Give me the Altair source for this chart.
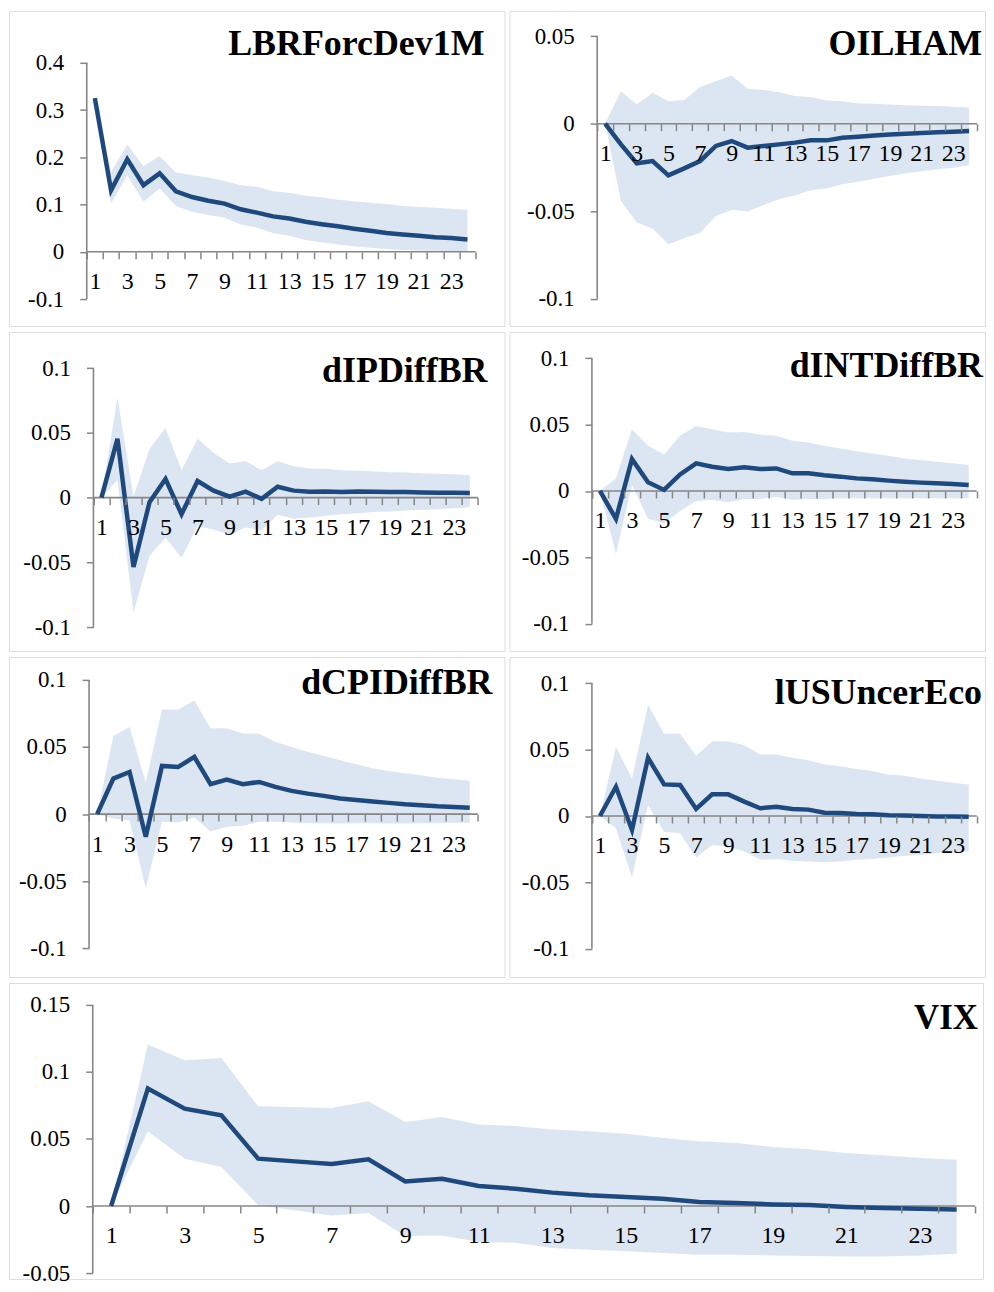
import altair as alt
import pandas as pd

# ---------------- data ----------------
periods = list(range(1, 25))
titles = ["LBRForcDev1M", "OILHAM", "dIPDiffBR", "dINTDiffBR", "dCPIDiffBR", "lUSUncerEco", "VIX"]

lbr_irf = [0.325, 0.130, 0.196, 0.141, 0.166, 0.128, 0.116, 0.108, 0.102, 0.090, 0.083, 0.075,
           0.0705, 0.0635, 0.0585, 0.054, 0.049, 0.0445, 0.040, 0.0367, 0.034, 0.031, 0.029, 0.026]
lbr_hi = [0.325, 0.169, 0.227, 0.181, 0.203, 0.168, 0.162, 0.157, 0.150, 0.141, 0.1376, 0.128,
          0.125, 0.1185, 0.1157, 0.110, 0.107, 0.104, 0.101, 0.097, 0.095, 0.093, 0.091, 0.089]
lbr_lo = [0.325, 0.102, 0.162, 0.106, 0.134, 0.097, 0.085, 0.078, 0.072, 0.058, 0.051, 0.040,
          0.034, 0.025, 0.020, 0.0155, 0.012, 0.0085, 0.006, 0.004, 0.003, 0.002, 0.0015, 0.001]

oil_irf = [0.0, -0.0118, -0.0226, -0.0213, -0.0295, -0.0255, -0.0213, -0.0127, -0.0099, -0.0137, -0.0127, -0.0118,
           -0.0108, -0.0095, -0.0095, -0.008, -0.0074, -0.0067, -0.0061, -0.0057, -0.0053, -0.0049, -0.0046, -0.0042]
oil_hi = [0.0, 0.0186, 0.011, 0.0177, 0.0129, 0.0135, 0.0209, 0.0243, 0.0276, 0.020, 0.0192, 0.018,
          0.0158, 0.0152, 0.0133, 0.0129, 0.0116, 0.0114, 0.011, 0.0106, 0.0103, 0.0101, 0.0097, 0.0093]
oil_lo = [0.0, -0.0441, -0.0565, -0.0599, -0.0688, -0.0654, -0.0625, -0.0527, -0.0492, -0.0502, -0.0464, -0.0432,
          -0.0409, -0.038, -0.0369, -0.0346, -0.0331, -0.0314, -0.0298, -0.0283, -0.0272, -0.026, -0.0251, -0.0238]

ip_irf = [0.0, 0.0454, -0.0536, -0.0036, 0.0143, -0.0128, 0.0128, 0.0054, 0.0008, 0.0046, -0.001, 0.0084,
          0.0054, 0.0046, 0.0048, 0.0043, 0.0048, 0.0046, 0.0043, 0.0043, 0.004, 0.0038, 0.0038, 0.0036]
ip_hi = [0.0, 0.0773, 0.0008, 0.0378, 0.0538, 0.0212, 0.0454, 0.0347, 0.0263, 0.028, 0.0212, 0.028,
         0.0242, 0.0224, 0.0222, 0.0212, 0.0207, 0.0202, 0.0196, 0.0194, 0.0189, 0.0184, 0.0181, 0.0173]
ip_lo = [0.0, 0.0135, -0.0885, -0.0452, -0.0311, -0.0464, -0.0222, -0.0247, -0.0286, -0.023, -0.0253, -0.0133,
         -0.0163, -0.0153, -0.014, -0.0128, -0.012, -0.0112, -0.0107, -0.0099, -0.0094, -0.0089, -0.0082, -0.0074]

int_irf = [0.0, -0.021, 0.024, 0.0065, 0.0008, 0.0125, 0.0208, 0.0183, 0.0165, 0.0178, 0.0165, 0.017,
           0.0133, 0.0133, 0.0118, 0.0108, 0.0095, 0.0088, 0.0078, 0.007, 0.0063, 0.0058, 0.0053, 0.0045]
int_hi = [0.0, 0.0095, 0.0465, 0.034, 0.0275, 0.0415, 0.049, 0.0465, 0.044, 0.0445, 0.0425, 0.0415,
          0.0378, 0.0365, 0.034, 0.032, 0.030, 0.0283, 0.0265, 0.0245, 0.0233, 0.022, 0.0208, 0.0195]
int_lo = [0.0, -0.0475, 0.0045, -0.021, -0.0243, -0.015, -0.0075, -0.0068, -0.0085, -0.006, -0.006, -0.0043,
          -0.0068, -0.006, -0.006, -0.0055, -0.0055, -0.0055, -0.0055, -0.0055, -0.0055, -0.0055, -0.0055, -0.0055]

cpi_irf = [0.0, 0.0265, 0.0314, -0.0168, 0.0359, 0.0351, 0.0426, 0.0223, 0.0257, 0.0223, 0.024, 0.0203,
           0.0173, 0.0153, 0.0136, 0.0116, 0.0106, 0.0094, 0.0084, 0.0074, 0.0067, 0.0059, 0.0054, 0.0047]
cpi_hi = [0.0, 0.0582, 0.0649, 0.0235, 0.078, 0.078, 0.0847, 0.0639, 0.0639, 0.0601, 0.0599, 0.054,
          0.050, 0.0465, 0.0433, 0.0401, 0.0371, 0.0342, 0.0322, 0.0304, 0.029, 0.0272, 0.026, 0.0248]
cpi_lo = [0.0, -0.0032, -0.0045, -0.0552, -0.0057, -0.0062, -0.0025, -0.0129, -0.0094, -0.0087, -0.0057, -0.0057,
          -0.0062, -0.0067, -0.0067, -0.0069, -0.0067, -0.0067, -0.0069, -0.0069, -0.0067, -0.0067, -0.0064, -0.0064]

unc_irf = [0.0, 0.022, -0.0105, 0.0438, 0.0238, 0.0233, 0.0053, 0.0163, 0.0163, 0.0108, 0.0058, 0.007,
           0.0053, 0.0048, 0.0025, 0.0023, 0.0015, 0.0013, 0.0005, 0.0003, 0.0, -0.0003, -0.0003, -0.0005]
unc_hi = [0.0, 0.052, 0.0283, 0.0838, 0.062, 0.062, 0.0453, 0.0563, 0.0563, 0.0533, 0.0463, 0.0463,
          0.0438, 0.042, 0.0388, 0.0375, 0.0353, 0.0338, 0.0313, 0.0303, 0.0283, 0.0265, 0.025, 0.0238]
unc_lo = [0.0, -0.0093, -0.0463, 0.0083, -0.0118, -0.013, -0.0313, -0.0218, -0.023, -0.0268, -0.033, -0.0323,
          -0.0338, -0.0343, -0.0348, -0.0343, -0.033, -0.0323, -0.0313, -0.030, -0.0293, -0.028, -0.0273, -0.0263]

vix_irf = [0.0, 0.0876, 0.0726, 0.0677, 0.0353, 0.0333, 0.0313, 0.0348, 0.0184, 0.0204, 0.0149, 0.0129,
           0.010, 0.008, 0.0067, 0.0055, 0.003, 0.0022, 0.0012, 0.0007, -0.0007, -0.0015, -0.002, -0.0025]
vix_hi = [0.0, 0.1204, 0.1087, 0.1104, 0.0744, 0.0739, 0.0731, 0.0781, 0.0627, 0.0664, 0.0609, 0.0597,
          0.057, 0.0557, 0.054, 0.0507, 0.0483, 0.047, 0.044, 0.0423, 0.0396, 0.0378, 0.0358, 0.0346]
vix_lo = [0.0, 0.0557, 0.0353, 0.0291, 0.0005, -0.0032, -0.007, -0.0052, -0.0224, -0.0219, -0.0269, -0.0274,
          -0.0313, -0.0326, -0.0338, -0.0351, -0.0363, -0.0363, -0.0368, -0.0373, -0.0376, -0.0376, -0.0368, -0.0356]

ticks_lbr = [-0.1, 0, 0.1, 0.2, 0.3, 0.4]
ticks_oil = [-0.1, -0.05, 0, 0.05]
ticks_01 = [-0.1, -0.05, 0, 0.05, 0.1]
ticks_vix = [-0.05, 0, 0.05, 0.1, 0.15]

# ---------------- style / layout ----------------
FONT = "Liberation Serif"
LINE = "#1F497D"
BAND = "#DCE6F2"
AXIS = "#868686"
FRAME = "#8C8C8C"

# page-pixel layout of each panel: frame (L,R,T,B), axis x-span, two y reference ticks, title anchor
layout = [
    dict(L=8, R=505, T=8, B=324, ax0=86, ax1=476, pA=60, vA=0.4, pB=297, vB=-0.1, tr=485, tb=52, ts=36),
    dict(L=508, R=985, T=8, B=324, ax0=596, ax1=977, pA=33.3, vA=0.05, pB=296.7, vB=-0.1, tr=982, tb=52, ts=36),
    dict(L=8, R=505, T=328, B=648, ax0=92.7, ax1=478.3, pA=364.3, vA=0.1, pB=624, vB=-0.1, tr=488, tb=378, ts=36),
    dict(L=508, R=985, T=328, B=648, ax0=590.7, ax1=976.7, pA=354.3, vA=0.1, pB=620.7, vB=-0.1, tr=983, tb=373, ts=36),
    dict(L=8, R=505, T=652, B=973, ax0=88.3, ax1=478.3, pA=675, vA=0.1, pB=944.3, vB=-0.1, tr=493, tb=689, ts=36),
    dict(L=508, R=985, T=652, B=973, ax0=590.7, ax1=976.7, pA=678.3, vA=0.1, pB=944.7, vB=-0.1, tr=982, tb=699, ts=36),
    dict(L=8, R=985, T=977, B=1274, ax0=92, ax1=977, pA=999, vA=0.15, pB=1268, vB=-0.05, tr=980, tb=1023, ts=35),
]


def panel(title, irf, lo, hi, ticks, g):
    W = g["R"] - g["L"]
    H = g["B"] - g["T"]
    ppu_y = (g["pB"] - g["pA"]) / (g["vA"] - g["vB"])
    vmax = g["vA"] + (g["pA"] - g["T"]) / ppu_y
    vmin = g["vB"] - (g["B"] - g["pB"]) / ppu_y
    ppu_x = (g["ax1"] - g["ax0"]) / 24.0
    umin = 0.5 - (g["ax0"] - g["L"]) / ppu_x
    umax = 24.5 + (g["R"] - g["ax1"]) / ppu_x
    y0 = H * vmax / (vmax - vmin)

    xs = alt.Scale(domain=[umin, umax], nice=False, zero=False)
    ys = alt.Scale(domain=[vmin, vmax], nice=False, zero=False)

    # ticks sit between categories (k + 0.5); each label is drawn half a band to the left of its tick
    xaxis = alt.Axis(
        orient="bottom", offset=-(H - y0), values=[k + 0.5 for k in range(25)], tickCount=60,
        domain=False, grid=False, ticks=True, tickSize=7, tickColor=AXIS, tickWidth=1.5,
        labelExpr="((datum.value - 0.5) % 2 == 1) ? '' + (datum.value - 0.5) : ''",
        labelOffset=-ppu_x / 2, labelFont=FONT, labelFontSize=24, labelColor="black",
        labelPadding=11, labelOverlap=False, labelFlush=False, labelBound=False,
        title=None, zindex=1, minExtent=0, maxExtent=0,
    )
    yaxis = alt.Axis(
        orient="left", offset=-(g["ax0"] - g["L"]), values=ticks, tickCount=60,
        domain=False, grid=False, tickSize=7, tickColor=AXIS, tickWidth=1.5,
        labelExpr="'' + datum.value", labelFont=FONT, labelFontSize=23, labelColor="black",
        labelPadding=16, labelOverlap=False, labelFlush=False, labelBound=False,
        title=None, zindex=1, minExtent=0, maxExtent=0,
    )

    df = pd.DataFrame({"period": periods, "irf": irf, "lo": lo, "hi": hi})
    one = pd.DataFrame({"t": [title]})

    band = alt.Chart(df).mark_area(color=BAND, opacity=1).encode(
        x=alt.X("period:Q", scale=xs, axis=xaxis),
        y=alt.Y("lo:Q", scale=ys, axis=yaxis),
        y2="hi:Q",
    )
    yline = alt.Chart(one).mark_rule(color=AXIS, strokeWidth=1.6).encode(
        x=alt.X(datum=0.5, type="quantitative", scale=xs),
        y=alt.Y(datum=min(ticks), type="quantitative", scale=ys),
        y2=alt.datum(max(ticks)),
    )
    xline = alt.Chart(one).mark_rule(color=AXIS, strokeWidth=1.6).encode(
        x=alt.X(datum=0.5, type="quantitative", scale=xs),
        x2=alt.datum(24.5),
        y=alt.Y(datum=0, type="quantitative", scale=ys),
    )
    line = alt.Chart(df).mark_line(color=LINE, strokeWidth=4.5).encode(
        x=alt.X("period:Q", scale=xs),
        y=alt.Y("irf:Q", scale=ys),
    )
    label = alt.Chart(one).mark_text(
        align="right", baseline="alphabetic", font=FONT, fontSize=g["ts"], fontWeight="bold", color="black"
    ).encode(
        text="t:N",
        x=alt.value(g["tr"] - g["L"]),
        y=alt.value(g["tb"] - g["T"]),
    )
    return alt.layer(band, yline, xline, line, label).properties(width=W, height=H)


series = [
    (lbr_irf, lbr_lo, lbr_hi, ticks_lbr),
    (oil_irf, oil_lo, oil_hi, ticks_oil),
    (ip_irf, ip_lo, ip_hi, ticks_01),
    (int_irf, int_lo, int_hi, ticks_01),
    (cpi_irf, cpi_lo, cpi_hi, ticks_01),
    (unc_irf, unc_lo, unc_hi, ticks_01),
    (vix_irf, vix_lo, vix_hi, ticks_vix),
]

panels = [panel(titles[i], *series[i], layout[i]) for i in range(7)]

row1 = alt.hconcat(panels[0], panels[1], spacing=3)
row2 = alt.hconcat(panels[2], panels[3], spacing=3)
row3 = alt.hconcat(panels[4], panels[5], spacing=3)

chart = alt.vconcat(row1, row2, row3, panels[6], spacing=4).properties(
    padding=0
).configure_view(
    stroke=FRAME, strokeWidth=1.3
).configure(background="white")

chart.save("out.html", embed_options={"renderer": "svg", "actions": False})
